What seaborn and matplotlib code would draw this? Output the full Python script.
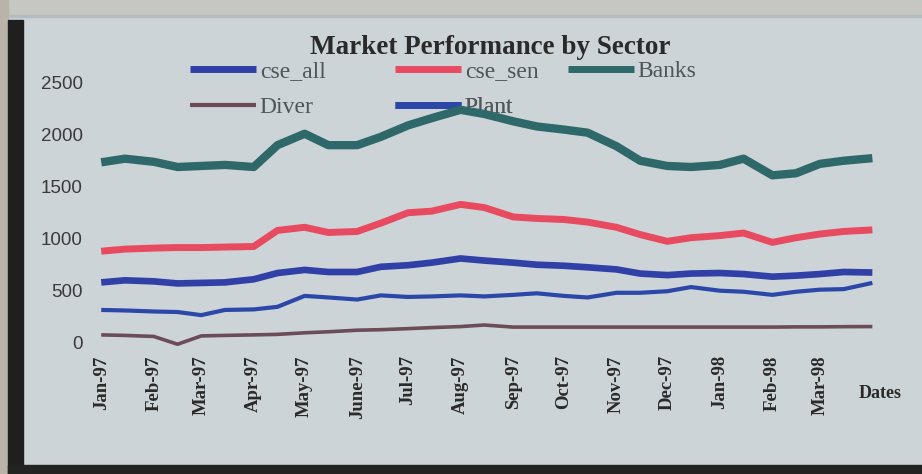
import numpy as np
import pandas as pd
import matplotlib
matplotlib.use("Agg")
import matplotlib.pyplot as plt
from matplotlib.patches import Rectangle
from matplotlib.lines import Line2D
import seaborn as sns

# ---------------- data (semi-monthly) ----------------
dates = pd.date_range("1997-01-01", periods=31, freq="SMS")

banks = [1735, 1770, 1740, 1690, 1700, 1710, 1690, 1900, 2010, 1900, 1900,
         1980, 2090, 2160, 2240, 2200, 2130, 2080, 2050, 2020, 1890, 1750,
         1700, 1690, 1710, 1770, 1610, 1630, 1720, 1750, 1775]
cse_sen = [880, 900, 910, 915, 915, 920, 925, 1080, 1110, 1060, 1070,
           1150, 1250, 1265, 1330, 1300, 1210, 1195, 1185, 1160, 1110, 1040,
           975, 1010, 1030, 1055, 965, 1010, 1045, 1070, 1085]
cse_all = [580, 600, 590, 570, 575, 580, 610, 670, 700, 680, 680,
           730, 745, 770, 810, 790, 770, 750, 740, 725, 705, 665,
           650, 665, 670, 660, 635, 645, 660, 680, 675]
plant = [315, 310, 300, 295, 265, 315, 320, 345, 450, 435, 415,
         455, 440, 445, 455, 445, 460, 475, 450, 435, 480, 480,
         495, 535, 500, 490, 460, 490, 510, 515, 575]
diver = [75, 70, 60, -15, 65, 70, 75, 80, 95, 105, 120,
         125, 135, 145, 155, 170, 150, 150, 150, 150, 150, 150,
         150, 150, 150, 150, 150, 152, 152, 154, 155]

tick_labels = ["Jan-97", "Feb-97", "Mar-97", "Apr-97", "May-97", "June-97",
               "Jul-97", "Aug-97", "Sep-97", "Oct-97", "Nov-97", "Dec-97",
               "Jan-98", "Feb-98", "Mar-98"]
y_ticks = [0, 500, 1000, 1500, 2000, 2500]

series_names = ["cse_all", "cse_sen", "Banks", "Diver", "Plant"]
series_vals = [cse_all, cse_sen, banks, diver, plant]
colors = {"cse_all": "#3140a6", "cse_sen": "#e84a60", "Banks": "#2f6868",
          "Diver": "#6b4c58", "Plant": "#2b48a8"}
widths = {"cse_all": 4.8, "cse_sen": 5.0, "Banks": 6.0, "Diver": 2.6, "Plant": 3.0}

# ---------------- figure ----------------
sns.set_theme(style="white")
plt.rcParams["font.family"] = ["Liberation Serif", "DejaVu Serif"]

W, H = 922, 474
fig = plt.figure(figsize=(W / 100, H / 100), dpi=100)
panel = "#ccd4d8"
fig.patch.set_facecolor(panel)

# photo frame
def px_rect(x0, y0, x1, y1, color):
    fig.patches.append(Rectangle((x0 / W, 1 - y1 / H), (x1 - x0) / W, (y1 - y0) / H,
                                 transform=fig.transFigure, color=color, zorder=-5))

px_rect(0, 0, W, 15, "#c6c7c2")
px_rect(0, 15, W, 17, "#b4bcc2")
px_rect(0, 0, 8, H, "#b9b3aa")
px_rect(8, 20, 23, H, "#1f1f1f")
px_rect(8, 465, W, H, "#232323")

# axes placement (pixel based)
x_left_px, x_right_px = 97.85, 891.0
y_top_px, y_bot_px = 62.0, 351.0
ax = fig.add_axes([x_left_px / W, 1 - y_bot_px / H,
                   (x_right_px - x_left_px) / W, (y_bot_px - y_top_px) / H])
ax.set_facecolor("none")

df = pd.DataFrame({"date": dates})
for name, vals in zip(series_names, series_vals):
    df[name] = vals

for name in series_names:
    sns.lineplot(data=df, x="date", y=name, ax=ax, color=colors[name],
                 linewidth=widths[name], zorder=3, legend=False,
                 solid_joinstyle="round", solid_capstyle="butt")

ax.set_xlim(pd.Timestamp("1996-12-30"), pd.Timestamp("1998-04-12"))
ax.set_ylim(-80, 2700)
ax.set_yticks(y_ticks)
ax.set_yticklabels([str(v) for v in y_ticks], family=["Liberation Sans", "DejaVu Sans"],
                   fontsize=13.5, color="#3a3a3a")
month_ticks = pd.date_range("1997-01-01", periods=len(tick_labels), freq="MS")
ax.set_xticks(month_ticks)
ax.set_xticklabels(tick_labels, rotation=90, fontsize=13.5, fontweight="bold",
                   color="#2a2a2a")
ax.tick_params(axis="y", length=0, pad=11)
ax.tick_params(axis="x", length=0, pad=3)
ax.set_xlabel("")
ax.set_ylabel("")
for s in ax.spines.values():
    s.set_visible(False)
ax.grid(False)

# title
fig.text(490 / W, 1 - 47 / H, "Market Performance by Sector", ha="center", va="center",
         fontsize=19.5, fontweight="bold", color="#2a2a2a")

# x label
fig.text(880 / W, 1 - 393 / H, "Dates", ha="center", va="center",
         fontsize=13, fontweight="bold", color="#2a2a2a")

# legend entries placed individually (pixel positions)
leg_pos = {"cse_all": (190, 71), "cse_sen": (395, 71), "Banks": (568, 71),
           "Diver": (190, 107), "Plant": (395, 107)}
for name in series_names:
    h = Line2D([0], [0], color=colors[name], linewidth=5 if name != "Diver" else 3,
               solid_capstyle="butt")
    x0, y0 = leg_pos[name]
    leg = ax.legend(handles=[h], labels=[name], loc="center left",
                    bbox_to_anchor=(x0 / W, 1 - y0 / H), bbox_transform=fig.transFigure,
                    frameon=False, handlelength=2.8, handletextpad=0.15,
                    borderpad=0, borderaxespad=0,
                    prop={"family": ["Liberation Serif"], "size": 17})
    for t in leg.get_texts():
        t.set_color("#505558")
    leg.set_zorder(1)
    ax.add_artist(leg)

fig.savefig("out.png", dpi=100, facecolor=fig.get_facecolor())
